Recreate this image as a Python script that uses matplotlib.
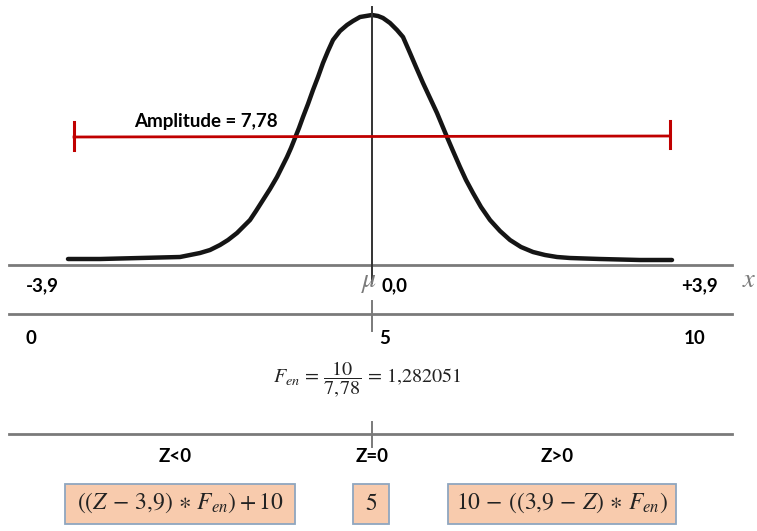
import matplotlib.pyplot as plt
from matplotlib.patches import Rectangle

plt.rcParams['mathtext.fontset'] = 'stix'

# curva normal (coordenadas em pixel, y para baixo)
curva_x = [68, 100, 140, 180, 190, 200, 210, 220, 228, 237, 243, 250, 256, 263, 270,
           277, 282, 287, 291, 295, 299, 303, 308, 313, 318, 323, 328, 333, 340, 347,
           353, 360, 366, 372, 378, 383, 390, 397, 403, 410, 416, 423, 430, 437, 442,
           447, 453, 460, 466, 473, 481, 490, 500, 510, 521, 533, 545, 557, 570, 600,
           640, 672]
curva_y = [259, 259, 258, 257, 255, 253, 250, 245, 240, 233, 227, 220, 211, 200, 189,
           177, 167, 157, 148, 138, 128, 117, 104, 90, 77, 63, 51, 40, 31, 25,
           21, 17, 16, 15, 16, 18, 23, 30, 37, 53, 67, 83, 98, 113, 125,
           137, 151, 167, 180, 193, 207, 220, 231, 240, 247, 252, 255, 257, 258, 259,
           260, 260]

amplitude = 7.78
z_lim = 3.9
escala = [0, 5, 10]
f_en = 1.282051
rotulos_z = ['Z<0', 'Z=0', 'Z>0']
formulas = [r'$((Z\,-\,3{,}9)\,\ast\,F_{en})+10$', r'$5$',
            r'$10\,-\,((3{,}9\,-\,Z)\,\ast\,F_{en})$']

fig = plt.figure(figsize=(7.57, 5.31), dpi=100)
ax = fig.add_axes([0, 0, 1, 1])
ax.set_xlim(0, 757)
ax.set_ylim(531, 0)
ax.axis('off')

cinza = '#7a7a7a'
fonte = 'Lato'
peso = 'bold'
tam = 13.5

# curva
ax.plot(curva_x, curva_y, color='#151515', lw=3.2, solid_capstyle='round', solid_joinstyle='round')

# eixos horizontais
for yl in (265, 314, 434):
    ax.plot([9, 732], [yl, yl], color=cinza, lw=2)
ax.plot([372, 372], [7, 283], color='#333333', lw=1.4)
ax.plot([372, 372], [301, 331], color=cinza, lw=1.4)
ax.plot([372, 372], [422, 447], color=cinza, lw=1.4)

# amplitude
ax.plot([74, 670], [137, 136], color='#c00000', lw=2)
ax.plot([74, 74], [122, 150], color='#c00000', lw=2.2)
ax.plot([670, 670], [121, 148], color='#c00000', lw=2.2)
ax.text(206, 121, 'Amplitude = ' + f'{amplitude:.2f}'.replace('.', ','), ha='center', va='center',
        fontsize=tam, family=fonte, weight=peso)

# rotulos do eixo z
ax.text(42, 286, f'-{z_lim}'.replace('.', ','), ha='center', va='center', fontsize=tam,
        family=fonte, weight=peso)
ax.text(699, 286, f'+{z_lim}'.replace('.', ','), ha='center', va='center', fontsize=tam,
        family=fonte, weight=peso)
ax.text(395, 286, '0,0', ha='center', va='center', fontsize=tam, family=fonte, weight=peso)
ax.text(369, 281, r'$\mu$', ha='center', va='center', fontsize=20, color=cinza)
ax.text(749, 280, r'$x$', ha='center', va='center', fontsize=19, color=cinza)

# escala 0-10
for v, xp in zip(escala, [31, 385, 695]):
    ax.text(xp, 338, str(v), ha='center', va='center', fontsize=tam, family=fonte, weight=peso)

# fator
num = f'{f_en:.6f}'.replace('.', '{,}')
ax.text(367, 379, r'$F_{en}\,=\,\dfrac{10}{7{,}78}\,=\,' + num + '$',
        ha='center', va='center', fontsize=14.5, color='#222222')

# Z e formulas
for rot, xp in zip(rotulos_z, [175, 372, 557]):
    ax.text(xp, 457, rot, ha='center', va='center', fontsize=tam, family=fonte, weight=peso)

caixas = [(65, 295), (353, 389), (448, 676)]
for (x0, x1), fm in zip(caixas, formulas):
    ax.add_patch(Rectangle((x0, 484), x1 - x0, 40, facecolor='#f8cbad', edgecolor='#8fa6bf', lw=1.3))
    ax.text((x0 + x1) / 2, 503, fm, ha='center', va='center', fontsize=17, color='#222222')

fig.savefig('out.png', dpi=100)
